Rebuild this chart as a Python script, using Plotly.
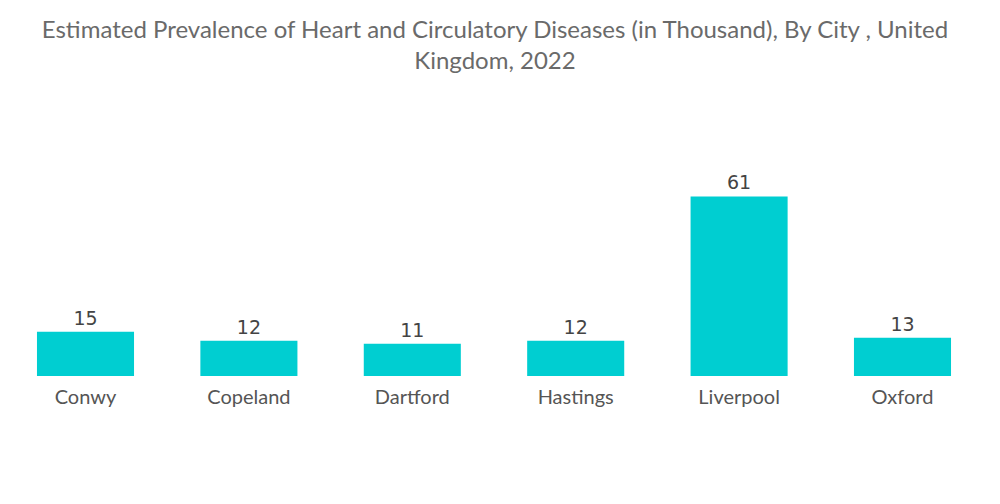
import plotly.graph_objects as go

cities = ["Conwy", "Copeland", "Dartford", "Hastings", "Liverpool", "Oxford"]
values = [15, 12, 11, 12, 61, 13]
labels = ["15", "12", "11", "12", "61", "13"]

fig = go.Figure(go.Bar(
    x=cities, y=values, text=labels, textposition="outside",
    marker=dict(color="#00CED1", line=dict(width=0)),
    textfont=dict(family="DejaVu Sans", size=19, color="#444444"),
    cliponaxis=False,
))
fig.update_layout(
    width=1000, height=504,
    paper_bgcolor="white", plot_bgcolor="white",
    margin=dict(l=0, r=0, t=162, b=136),
    bargap=0.406,
    title=dict(
        text="Estimated Prevalence of Heart and Circulatory Diseases (in Thousand), By City , United<br>Kingdom, 2022",
        x=0.487, xanchor="center", y=0.94, yanchor="top",
        font=dict(family="Lato", size=24, color="#6a6a6a"),
    ),
    xaxis=dict(showgrid=False, showline=False, zeroline=False, ticks="",
               range=[-0.4743, 5.6457], ticklabelstandoff=7,
               tickfont=dict(family="Lato", size=20, color="#555555")),
    yaxis=dict(visible=False, range=[0, 70], showgrid=False, zeroline=False),
    showlegend=False,
)
fig.write_html("out.html")
